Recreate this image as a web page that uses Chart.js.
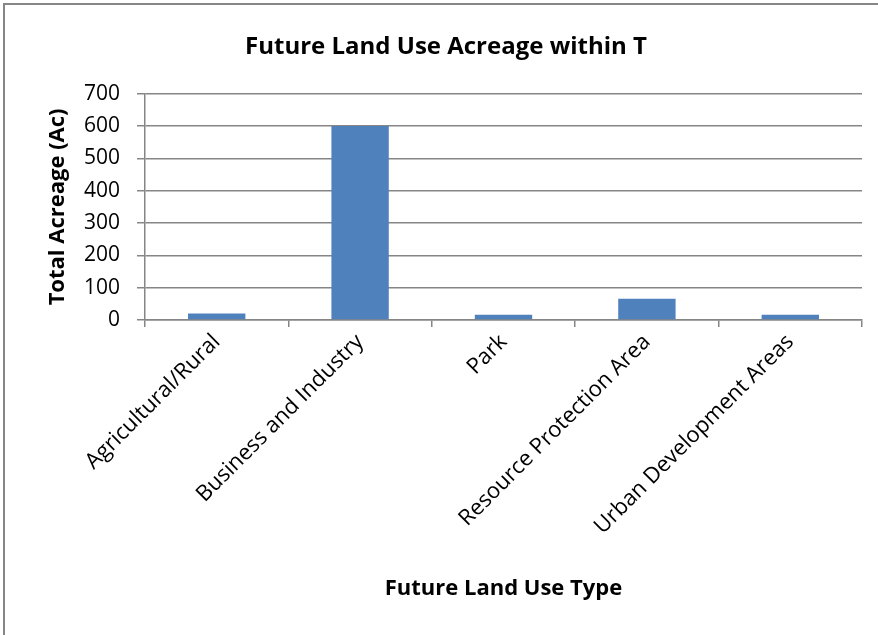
<!DOCTYPE html>
<html>
<head>
<meta charset="utf-8">
<script src="https://cdn.jsdelivr.net/npm/chart.js@4.4.0/dist/chart.umd.min.js"></script>
<style>
  html, body { margin: 0; padding: 0; background: #fff; }
  #wrap { width: 878px; height: 635px; }
</style>
</head>
<body>
<div id="wrap"><canvas id="myChart" width="878" height="635"></canvas></div>
<script>
var categories = ['Agricultural/Rural', 'Business and Industry', 'Park', 'Resource Protection Area', 'Urban Development Areas'];
var acreage = [20, 600, 16, 66, 16];
var yTicks = [0, 100, 200, 300, 400, 500, 600, 700];

var gridGray = '#868686';
var fontFamily = "'Open Sans', 'Noto Sans', sans-serif";

// chart frame: only top and left edges are visible in the crop
var framePlugin = {
    id: 'frame',
    beforeDraw: function(chart) {
        var ctx = chart.ctx;
        ctx.save();
        ctx.fillStyle = '#fff';
        ctx.fillRect(0, 0, chart.width, chart.height);
        ctx.strokeStyle = gridGray;
        ctx.lineWidth = 2;
        ctx.beginPath();
        ctx.moveTo(4, chart.height + 2);
        ctx.lineTo(4, 4);
        ctx.lineTo(chart.width + 2, 4);
        ctx.stroke();
        ctx.restore();
    }
};

var config = {
    type: 'bar',
    data: {
        labels: categories,
        datasets: [{
            data: acreage,
            backgroundColor: '#4F81BD',
            barPercentage: 0.4,
            categoryPercentage: 1
        }]
    },
    options: {
        responsive: false,
        animation: false,
        layout: { padding: { left: 30, right: 16, top: 0, bottom: 33 } },
        plugins: {
            legend: { display: false },
            tooltip: { enabled: false },
            title: {
                display: true,
                text: 'Future Land Use Acreage within T',
                color: '#000',
                font: { family: fontFamily, size: 24, weight: 'bold' },
                padding: { top: 33, bottom: 32 }
            }
        },
        scales: {
            x: {
                grid: {
                    offset: true,
                    drawOnChartArea: false,
                    drawTicks: true,
                    tickLength: 7,
                    color: gridGray,
                    lineWidth: 1.5
                },
                border: { color: gridGray, width: 1.5 },
                ticks: {
                    color: '#000',
                    font: { family: fontFamily, size: 22 },
                    minRotation: 45,
                    maxRotation: 45,
                    padding: 2
                },
                title: {
                    display: true,
                    text: 'Future Land Use Type',
                    color: '#000',
                    font: { family: fontFamily, size: 22, weight: 'bold' },
                    padding: { top: 0, bottom: 0 }
                },
                afterFit: function(scale) { scale.height = 282; }
            },
            y: {
                min: 0,
                max: 700,
                afterBuildTicks: function(scale) {
                    scale.ticks = yTicks.map(function(v) { return { value: v }; });
                },
                grid: {
                    color: gridGray,
                    lineWidth: 1.5,
                    tickLength: 8
                },
                border: { color: gridGray, width: 1.5 },
                ticks: {
                    color: '#000',
                    font: { family: fontFamily, size: 21 },
                    padding: 17
                },
                title: {
                    display: true,
                    text: 'Total Acreage (Ac)',
                    color: '#000',
                    font: { family: fontFamily, size: 22, weight: 'bold' },
                    padding: { top: 15, bottom: 0 }
                },
                afterFit: function(scale) { scale.width = 115; }
            }
        }
    },
    plugins: [framePlugin]
};

var myChart = new Chart(document.getElementById('myChart').getContext('2d'), config);
</script>
</body>
</html>
